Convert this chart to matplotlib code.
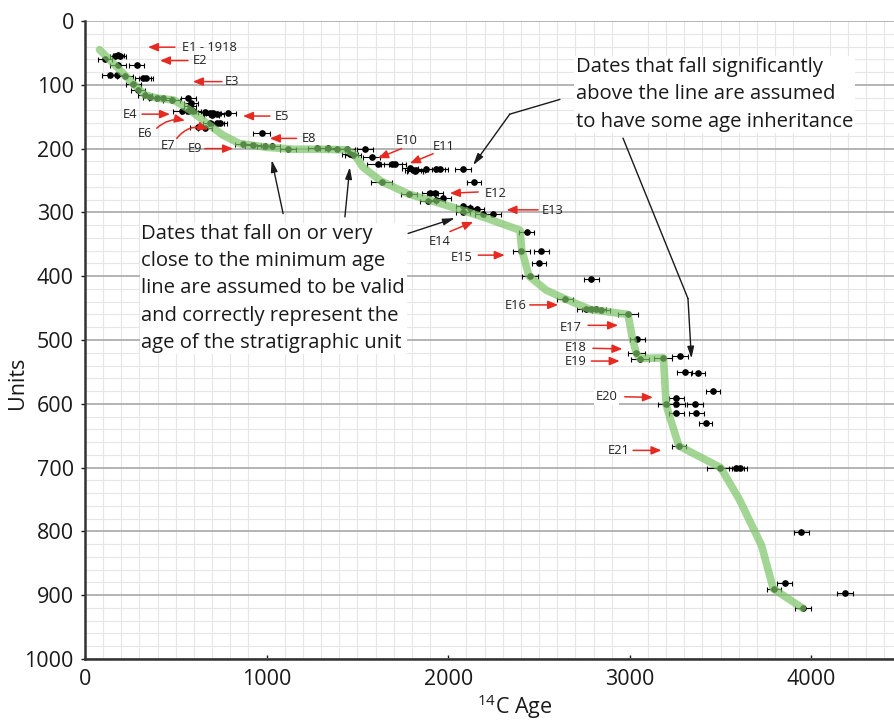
import numpy as np
import matplotlib
matplotlib.use("Agg")
import matplotlib.pyplot as plt
from matplotlib.ticker import MultipleLocator

plt.rcParams['font.family'] = ['Open Sans', 'DejaVu Sans']
plt.rcParams['mathtext.fontset'] = 'custom'
plt.rcParams['mathtext.rm'] = 'Open Sans'

# ---- radiocarbon dates (age, stratigraphic unit, 1-sigma) ----
ages = [110, 165, 183, 195, 183, 284, 138, 174, 220, 321, 335, 266, 293, 330, 358,
        395, 431, 477, 569, 583, 578, 532, 569, 596, 660, 688, 706, 697, 725, 789,
        688, 725, 743, 624, 660, 972, 871, 926, 990, 1027, 1119, 1275, 1339, 1385,
        1440, 1458, 1477, 1541, 1578, 1614, 1688, 1706, 1789, 1807, 1816, 1825, 1880,
        1935, 1954, 2082, 2141, 1633, 1784, 1899, 1926, 1889, 1935, 1972, 2082, 2119,
        2156, 2082, 2192, 2247, 2431, 2403, 2513, 2500, 2449, 2788, 2642, 2761, 2788,
        2816, 2843, 2990, 3041, 3036, 3054, 3183, 3275, 3302, 3375, 3458, 3256, 3198,
        3256, 3357, 3256, 3366, 3418, 3271, 3499, 3586, 3605, 3944, 3852, 3793, 3953,
        4183]
units = [60, 55, 53, 55, 69, 69, 84, 84, 86, 89, 89, 98, 108, 116, 119,
         121, 121, 124, 121, 128, 133, 141, 141, 141, 142, 144, 144, 147, 145, 144,
         160, 160, 160, 166, 167, 176, 193, 195, 196, 196, 200, 199, 199, 200,
         201, 208, 210, 200, 213, 224, 224, 224, 231, 233, 235, 233, 232,
         232, 232, 232, 252, 252, 271, 269, 269, 282, 281, 277, 290, 293,
         295, 299, 303, 303, 330, 360, 360, 379, 400, 405, 435, 451, 452,
         452, 453, 460, 499, 520, 529, 528, 525, 550, 552, 580, 591, 601,
         601, 600, 615, 615, 630, 666, 700, 700, 700, 801, 881, 890, 920,
         896]
errs = [40, 30, 30, 30, 45, 40, 45, 45, 45, 45, 40, 40, 40, 40, 40,
        40, 40, 45, 40, 40, 35, 45, 40, 40, 40, 40, 40, 40, 40, 40,
        40, 40, 40, 45, 40, 45, 45, 45, 45, 45, 45, 45, 45, 45,
        45, 45, 45, 45, 45, 60, 60, 60, 45, 45, 45, 45, 45,
        45, 45, 45, 40, 60, 45, 45, 45, 45, 45, 45, 40, 40,
        40, 40, 45, 45, 40, 45, 40, 40, 45, 40, 45, 50, 50,
        50, 50, 55, 40, 45, 50, 50, 45, 40, 40, 40, 40, 45,
        45, 45, 40, 40, 35, 40, 75, 40, 40, 40, 40, 40, 45,
        45]

# ---- minimum age line ----
line_age = [80, 175, 265, 330, 400, 490, 580, 670, 760, 850, 1000, 1150, 1300, 1440,
            1480, 1530, 1630, 1780, 1900, 2070, 2210, 2395, 2405, 2445, 2540, 2640,
            2780, 2990, 3015, 3035, 3055, 3185, 3200, 3220, 3270, 3500, 3605, 3725,
            3790, 3950]
line_unit = [45, 72, 98, 116, 121, 124, 140, 160, 179, 192, 198, 201, 201, 202,
             208, 229, 251, 271, 281, 296, 309, 328, 359, 400, 422, 435,
             452, 460, 499, 520, 529, 528, 601, 621, 666, 700, 751, 822,
             890, 920]

# ---- event labels: (text, text x, text y, align, arrow tail, arrow head) ----
event_labels = [
    ("E1 - 1918", 534, 41, "left", (495, 41), (347, 41)),
    ("E2", 594, 62, "left", (567, 62), (413, 62)),
    ("E3", 770, 95, "left", (754, 95), (594, 95)),
    ("E4", 290, 146, "right", (314, 146), (468, 146)),
    ("E5", 1046, 149, "left", (1018, 149), (870, 149)),
    ("E6", 369, 176, "right", (395, 168), (550, 156)),
    ("E7", 495, 195, "right", (505, 184), (679, 170)),
    ("E8", 1194, 184, "left", (1165, 184), (1018, 184)),
    ("E9", 644, 200, "right", (660, 200), (815, 200)),
    ("E10", 1772, 188, "center", (1743, 200), (1614, 215)),
    ("E11", 1976, 196, "center", (1917, 208), (1789, 223)),
    ("E12", 2201, 270, "left", (2165, 268), (2009, 270)),
    ("E13", 2515, 297, "left", (2495, 296), (2321, 296)),
    ("E14", 1954, 346, "center", (2009, 330), (2137, 315)),
    ("E15", 2135, 370, "right", (2165, 367), (2311, 367)),
    ("E16", 2433, 446, "right", (2449, 445), (2605, 445)),
    ("E17", 2735, 480, "right", (2770, 477), (2935, 477)),
    ("E18", 2763, 511, "right", (2797, 513), (2959, 514)),
    ("E19", 2763, 533, "right", (2788, 533), (2944, 533)),
    ("E20", 2933, 589, "right", (2972, 589), (3127, 590)),
    ("E21", 2999, 673, "right", (3018, 673), (3174, 673)),
]

fig = plt.figure(figsize=(8.95, 7.22), dpi=100)
ax = fig.add_axes([85 / 895, 1 - 659 / 722, 1 - 85 / 895, (659 - 21) / 722])

# grid
ax.xaxis.set_minor_locator(MultipleLocator(100))
ax.yaxis.set_minor_locator(MultipleLocator(20))
ax.grid(which='minor', color='#e6e6e6', lw=0.8, zorder=0)
ax.yaxis.grid(which='major', color='#a8a8a8', lw=1.2, zorder=1)
ax.set_axisbelow(True)

ax.set_xlim(0, 4460)
ax.set_ylim(1000, 0)
ax.set_xticks([0, 1000, 2000, 3000, 4000])
ax.set_yticks(np.arange(0, 1001, 100))
ax.tick_params(axis='both', which='major', labelsize=15.5, length=3, width=1,
               direction='out', pad=5, colors='#1a1a1a')
ax.tick_params(axis='x', which='major', direction='in', pad=7)
ax.tick_params(which='minor', length=0)
for s in ['top', 'right']:
    ax.spines[s].set_visible(False)
for s in ['left', 'bottom']:
    ax.spines[s].set_linewidth(1.8)
    ax.spines[s].set_color('#333333')

# data points
ax.errorbar(ages, units, xerr=errs, fmt='o', color='black', ms=3.8,
            elinewidth=0.8, capsize=1.8, capthick=0.8, zorder=3)

# minimum age line
ax.plot(line_age, line_unit, color='#7cc467', lw=5.5, alpha=0.7,
        solid_capstyle='round', solid_joinstyle='round', zorder=4)

# red event arrows
red = '#e62a22'
for lab, tx, ty, ha, tail, head in event_labels:
    cs = 'arc3,rad=0'
    if lab == 'E6':
        cs = 'arc3,rad=-0.25'
    if lab == 'E7':
        cs = 'arc3,rad=-0.35'
    ax.annotate('', xy=head, xytext=tail, zorder=5,
                arrowprops=dict(arrowstyle='-|>,head_length=0.6,head_width=0.25',
                                color=red, lw=1.1, shrinkA=0, shrinkB=0,
                                connectionstyle=cs))
    bb = dict(facecolor='white', edgecolor='none', pad=1) if lab == 'E20' else None
    ax.text(tx, ty, lab, ha=ha, va='center', fontsize=9.3, color='#222222',
            zorder=6, bbox=bb)

# black explanatory arrows
blk = dict(arrowstyle='-|>,head_length=0.7,head_width=0.2', color='#1a1a1a',
           lw=1.0, shrinkA=0, shrinkB=0)
ax.annotate('', xy=(1028, 218), xytext=(1091, 302), arrowprops=blk, zorder=5)
ax.annotate('', xy=(1458, 229), xytext=(1431, 307), arrowprops=blk, zorder=5)
ax.annotate('', xy=(2036, 309), xytext=(1779, 333), arrowprops=blk, zorder=5)
ax.plot([2614, 2339], [123, 146], color='#1a1a1a', lw=1.0, zorder=5)
ax.annotate('', xy=(2137, 226), xytext=(2339, 146), arrowprops=blk, zorder=5)
ax.plot([2963, 3320], [184, 435], color='#1a1a1a', lw=1.0, zorder=5)
ax.annotate('', xy=(3339, 529), xytext=(3320, 435), arrowprops=blk, zorder=5)

ax.text(311, 419, "Dates that fall on or very\nclose to the minimum age\n"
        "line are assumed to be valid\nand correctly represent the\n"
        "age of the stratigraphic unit",
        ha='left', va='center', fontsize=14.6, linespacing=1.48, color='#1a1a1a',
        zorder=6, bbox=dict(facecolor='white', edgecolor='none', pad=1))
ax.text(2702, 115, "Dates that fall significantly\nabove the line are assumed\n"
        "to have some age inheritance",
        ha='left', va='center', fontsize=14.6, linespacing=1.48, color='#1a1a1a',
        zorder=6, bbox=dict(facecolor='white', edgecolor='none', pad=1))

fig.text(18 / 895, 1 - 383 / 722, "Units", rotation=90, ha='center', va='center',
         fontsize=15.5, color='#1a1a1a')
fig.text(515 / 895, 1 - 707 / 722, r"$\mathregular{^{14}}$C Age", ha='center',
         va='center', fontsize=15.5, color='#1a1a1a')

fig.savefig("out.png", dpi=100)
